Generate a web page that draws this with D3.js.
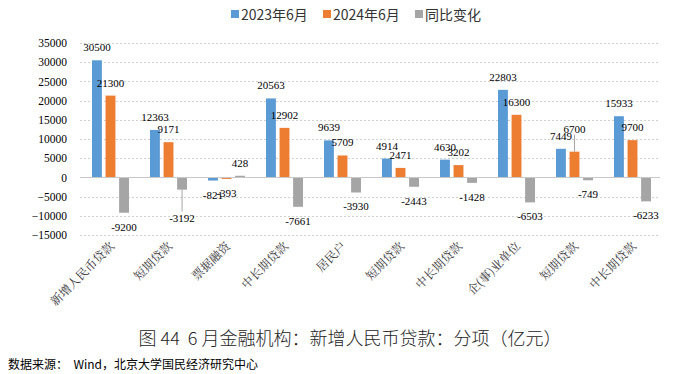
<!DOCTYPE html>
<html><head><meta charset="utf-8">
<script src="https://cdn.jsdelivr.net/npm/d3@7"></script>
<style>body{margin:0;background:#fff;}svg{display:block;}</style>
</head><body>
<svg id="c" width="682" height="374"></svg>
<script>
const categories = ["新增人民币贷款","短期贷款","票据融资","中长期贷款","居民户","短期贷款","中长期贷款","企(事)业单位","短期贷款","中长期贷款"];
const seriesNames = ["2023年6月","2024年6月","同比变化"];
const v2023 = [30500,12363,-821,20563,9639,4914,4630,22803,7449,15933];
const v2024 = [21300,9171,-393,12902,5709,2471,3202,16300,6700,9700];
const vChange = [-9200,-3192,428,-7661,-3930,-2443,-1428,-6503,-749,-6233];
const yTicks = [35000,30000,25000,20000,15000,10000,5000,0,-5000,-10000,-15000];
const colors = ["#5B9BD5","#ED7D31","#A5A5A5"];
const title = "图 44  6 月金融机构：新增人民币贷款：分项（亿元）";
const source = "数据来源：  Wind，北京大学国民经济研究中心";

(function(){
const svg = d3.select("#c");
const mL = 80, mR = 660, mT = 43, mB = 235;
const y = d3.scaleLinear().domain([-15000,35000]).range([mB, mT]);
const x0 = d3.scaleBand().domain(d3.range(categories.length)).range([mL,mR]).paddingInner(0.0).paddingOuter(0);
const x1 = d3.scaleBand().domain([0,1,2]).range([12, 49]).paddingInner(0.27);

const yAxis = d3.axisLeft(y).tickValues(yTicks).tickSize(0).tickPadding(13).tickFormat(d3.format("d"));
const ga = svg.append("g").attr("transform",`translate(${mL},0)`).call(yAxis);
ga.select(".domain").remove();
ga.selectAll("text").attr("font-family","'Liberation Serif', 'Times New Roman', serif").attr("font-size","11.5px").attr("fill","#000");
svg.append("g").selectAll("line").data(yTicks.filter(d=>d!==0)).join("line")
  .attr("x1",mL).attr("x2",mR).attr("y1",d=>Math.round(y(d))+0.5).attr("y2",d=>Math.round(y(d))+0.5)
  .attr("stroke","#d0d0d0").attr("stroke-dasharray","2,2").attr("stroke-width",1);

const nudge = {"1-8": -10, "2-1": 14};

const series = [v2023, v2024, vChange];
series.forEach((vals, si) => {
  const g = svg.append("g");
  g.selectAll("rect").data(vals).join("rect")
    .attr("x",(d,i)=>x0(i)+x1(si))
    .attr("width",x1.bandwidth())
    .attr("y",d=>y(Math.max(0,d)))
    .attr("height",d=>Math.abs(y(d)-y(0)))
    .attr("fill",colors[si]);
  vals.forEach((d,i)=>{
    const cx = x0(i)+x1(si)+x1.bandwidth()/2;
    const n = nudge[si+"-"+i] || 0;
    const ty = (d>=0 ? y(d)-9 : y(d)+18) + n;
    if (n) {
      g.append("line").attr("x1",cx).attr("x2",cx)
        .attr("y1", y(d))
        .attr("y2", d>=0 ? ty+2 : ty-10)
        .attr("stroke","#a6a6a6").attr("stroke-width",1);
    }
    g.append("text").attr("x",cx).attr("y",ty)
      .attr("text-anchor","middle")
      .attr("font-family","'Liberation Serif', 'Times New Roman', serif")
      .attr("font-size","11px").attr("fill","#000")
      .text(d);
  });
});

svg.append("line").attr("x1",mL).attr("x2",mR).attr("y1",Math.round(y(0))+0.5).attr("y2",Math.round(y(0))+0.5)
  .attr("stroke","#c8c8c8").attr("stroke-width",1.2);

svg.append("g").selectAll("text").data(categories).join("text")
  .attr("transform",(d,i)=>`translate(${x0(i)+x0.bandwidth()/2+6},${mB+12}) rotate(-45)`)
  .attr("text-anchor","end")
  .attr("font-family","'Noto Serif CJK SC','Noto Sans CJK SC',serif")
  .attr("font-size","12px").attr("fill","#333")
  .text(d=>d);

const lg = svg.append("g").attr("transform","translate(231,8)");
let lx = 0;
const widths = [92,92,70];
seriesNames.forEach((n,i)=>{
  lg.append("rect").attr("x",lx).attr("y",2).attr("width",8).attr("height",8).attr("fill",colors[i]);
  lg.append("text").attr("x",lx+10).attr("y",12).attr("font-family","'Noto Sans CJK SC',sans-serif")
    .attr("font-size","14px").attr("fill","#333").text(n);
  lx += widths[i];
});

svg.append("text").attr("x",350).attr("y",345).attr("text-anchor","middle")
  .style("white-space","pre")
  .attr("font-family","'Noto Sans CJK SC',serif").attr("font-size","18px").attr("font-weight","300").attr("fill","#222").text(title);
svg.append("text").attr("x",8).attr("y",369)
  .style("white-space","pre")
  .attr("font-family","'Noto Sans CJK SC',sans-serif").attr("font-size","12px").attr("fill","#000").text(source);
})();
</script>
</body></html>
